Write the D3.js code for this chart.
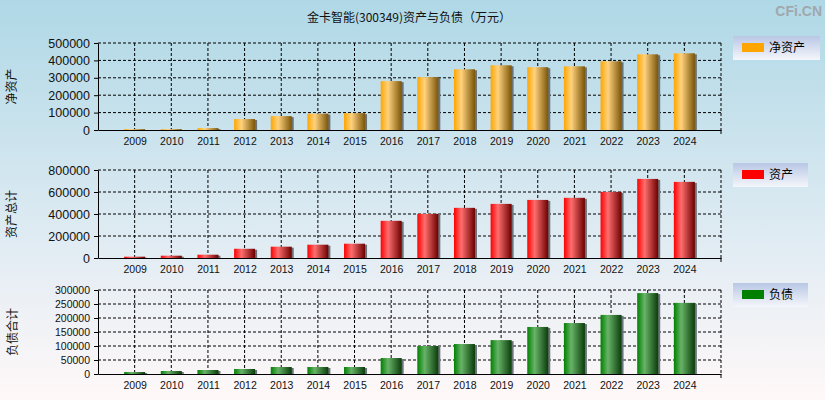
<!DOCTYPE html>
<html>
<head>
<meta charset="utf-8">
<script src="https://cdn.jsdelivr.net/npm/d3@7"></script>
<style>
  body { margin: 0; }
  svg { display: block; }
</style>
</head>
<body>
<script>
const years = ["2009", "2010", "2011", "2012", "2013", "2014", "2015", "2016",
    "2017", "2018", "2019", "2020", "2021", "2022", "2023", "2024"];

// 净资产
const netAssets = [5000, 5000, 11000, 63000, 80000, 94000, 97000, 281000,
    304000, 349000, 372000, 361000, 366000, 395000, 435000, 441000];
// 资产总计
const totalAssets = [12000, 21000, 30000, 84000, 103000, 121000, 130000, 338000,
    401000, 456000, 492000, 528000, 547000, 601000, 719000, 692000];
// 负债合计
const liabilities = [7000, 10700, 14300, 17900, 25000, 25000, 25000, 57000,
    100000, 107000, 121000, 168000, 182000, 211000, 289000, 254000];

const yTicks1 = [0, 100000, 200000, 300000, 400000, 500000];
const yTicks2 = [0, 200000, 400000, 600000, 800000];
const yTicks3 = [0, 50000, 100000, 150000, 200000, 250000, 300000];

const W = 825, H = 400;
const left = 98, right = 721;

const svg = d3.select("body").append("svg")
    .attr("width", W)
    .attr("height", H);

const defs = svg.append("defs");

const bg = defs.append("linearGradient").attr("id", "bg")
    .attr("x1", 0).attr("y1", 0).attr("x2", 0).attr("y2", 1);
bg.append("stop").attr("offset", "0%").attr("stop-color", "#afd8e6");
bg.append("stop").attr("offset", "65%").attr("stop-color", "#e4edf4");
bg.append("stop").attr("offset", "100%").attr("stop-color", "#fff8f8");

const lg = defs.append("linearGradient").attr("id", "legbg")
    .attr("x1", 0).attr("y1", 0).attr("x2", 0).attr("y2", 1);
lg.append("stop").attr("offset", "0%").attr("stop-color", "#b9c7e5");
lg.append("stop").attr("offset", "100%").attr("stop-color", "#f5f6fb");

function barGradient(id, c0, c1, c2) {
    const g = defs.append("linearGradient").attr("id", id)
        .attr("x1", 0).attr("y1", 0).attr("x2", 1).attr("y2", 0);
    g.append("stop").attr("offset", "0%").attr("stop-color", c0);
    g.append("stop").attr("offset", "35%").attr("stop-color", c1);
    g.append("stop").attr("offset", "100%").attr("stop-color", c2);
}
barGradient("gOrange", "#ffa500", "#ffd27e", "#7a5508");
barGradient("gRed", "#ff0000", "#ff6e6e", "#6c0000");
barGradient("gGreen", "#008000", "#68b368", "#0a3c0a");

svg.append("rect").attr("width", W).attr("height", H).attr("fill", "url(#bg)");

svg.append("text")
    .attr("x", 409).attr("y", 22)
    .attr("text-anchor", "middle")
    .style("font-family", "'Noto Sans CJK SC', sans-serif")
    .style("font-size", "12px")
    .attr("fill", "#111")
    .text("金卡智能(300349)资产与负债（万元）");

svg.append("text")
    .attr("x", 822).attr("y", 16)
    .attr("text-anchor", "end")
    .style("font-family", "'Liberation Sans', Arial, sans-serif")
    .style("font-size", "14px")
    .style("font-weight", "bold")
    .attr("fill", "#a0a8ae")
    .text("CFi.CN");

const x = d3.scalePoint().domain(years).range([left, right]).padding(1);

function panel(opt) {
    const y = d3.scaleLinear().domain([0, opt.max]).range([opt.bottom, opt.top]);
    const g = svg.append("g");

    // grid
    g.selectAll(".hg").data(opt.ticks.slice(1)).enter().append("line")
        .attr("x1", left).attr("x2", right)
        .attr("y1", d => y(d)).attr("y2", d => y(d))
        .attr("stroke", "#000").attr("stroke-dasharray", "3,2");
    g.selectAll(".vg").data(years).enter().append("line")
        .attr("x1", d => x(d)).attr("x2", d => x(d))
        .attr("y1", opt.top).attr("y2", opt.bottom)
        .attr("stroke", "#000").attr("stroke-dasharray", "3,2");
    g.append("line")
        .attr("x1", right).attr("x2", right)
        .attr("y1", opt.top).attr("y2", opt.bottom)
        .attr("stroke", "#000").attr("stroke-dasharray", "3,2");

    // bars
    const bw = 21;
    g.selectAll(".sh").data(opt.values).enter().append("rect")
        .attr("x", (d, i) => x(years[i]) - bw / 2 + 2)
        .attr("y", d => y(d) + 1)
        .attr("width", bw)
        .attr("height", d => Math.max(0, opt.bottom - y(d) - 1))
        .attr("fill", "#6b737a");
    g.selectAll(".bar").data(opt.values).enter().append("rect")
        .attr("x", (d, i) => x(years[i]) - bw / 2)
        .attr("y", d => y(d))
        .attr("width", bw)
        .attr("height", d => opt.bottom - y(d))
        .attr("fill", opt.fill);

    // y axis
    const ya = g.append("g")
        .attr("transform", `translate(${left},0)`)
        .call(d3.axisLeft(y).tickValues(opt.ticks).tickSize(4).tickSizeOuter(0)
            .tickFormat(d3.format("d")));
    ya.select(".domain").attr("stroke", "#000");
    ya.selectAll(".tick line").attr("stroke", "#000");
    ya.selectAll("text")
        .attr("x", -8)
        .attr("fill", "#111")
        .style("font-family", "'Liberation Sans', Arial, sans-serif")
        .style("font-size", opt.yFont);

    // x axis
    const xa = g.append("g")
        .attr("transform", `translate(0,${opt.bottom})`)
        .call(d3.axisBottom(x).tickSize(0).tickSizeOuter(0));
    xa.select(".domain").attr("stroke", "#000");
    xa.selectAll("text")
        .attr("dy", "0.71em")
        .attr("y", 8)
        .attr("fill", "#111")
        .style("font-family", "'Liberation Sans', Arial, sans-serif")
        .style("font-size", "10.5px");
    g.append("line")
        .attr("x1", right).attr("x2", right)
        .attr("y1", opt.bottom).attr("y2", opt.bottom + 4)
        .attr("stroke", "#000");

    // y title
    g.append("text")
        .attr("transform", `translate(${opt.titleX},${(opt.top + opt.bottom) / 2}) rotate(-90)`)
        .attr("text-anchor", "middle")
        .attr("dy", "0.35em")
        .style("font-family", "'Noto Sans CJK SC', sans-serif")
        .style("font-size", "12px")
        .attr("fill", "#111")
        .text(opt.title);

    // legend
    const lgG = g.append("g").attr("transform", `translate(733,${opt.legY})`);
    lgG.append("rect").attr("width", opt.legW).attr("height", 24).attr("fill", "url(#legbg)");
    lgG.append("rect").attr("x", 9).attr("y", 7).attr("width", 22).attr("height", 9)
        .attr("fill", opt.swatch);
    lgG.append("text")
        .attr("x", 36).attr("y", 12).attr("dy", "0.35em")
        .style("font-family", "'Noto Sans CJK SC', sans-serif")
        .style("font-size", "12px")
        .attr("fill", "#000")
        .text(opt.legend);
}

panel({
    values: netAssets, max: 500000, ticks: yTicks1, top: 43, bottom: 130,
    fill: "url(#gOrange)", yFont: "12.5px", title: "净资产", titleX: 12,
    legY: 36, legW: 87, swatch: "#ffa500", legend: "净资产"
});
panel({
    values: totalAssets, max: 800000, ticks: yTicks2, top: 170, bottom: 258,
    fill: "url(#gRed)", yFont: "12.5px", title: "资产总计", titleX: 12,
    legY: 163, legW: 75, swatch: "#ff0000", legend: "资产"
});
panel({
    values: liabilities, max: 300000, ticks: yTicks3, top: 290, bottom: 374,
    fill: "url(#gGreen)", yFont: "10.5px", title: "负债合计", titleX: 13,
    legY: 283, legW: 75, swatch: "#008000", legend: "负债"
});
</script>
</body>
</html>
